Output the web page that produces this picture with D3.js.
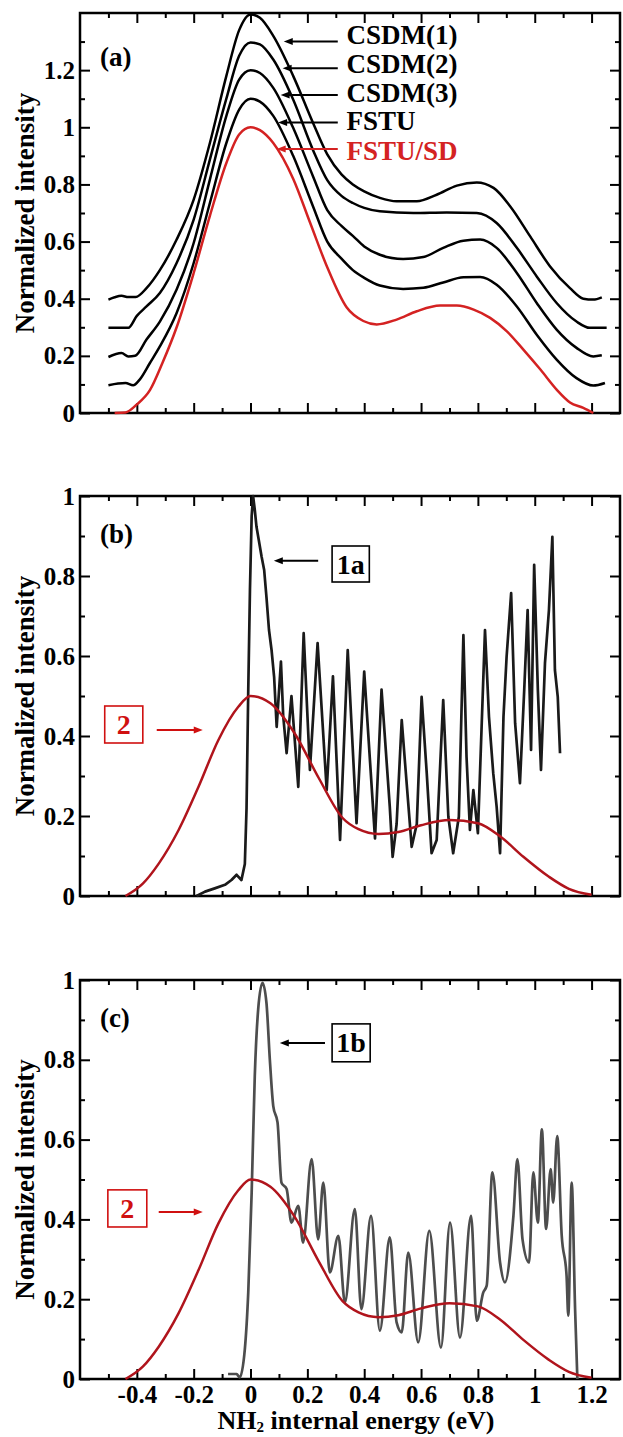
<!DOCTYPE html>
<html>
<head>
<meta charset="utf-8">
<script src="https://cdn.jsdelivr.net/npm/d3@7"></script>
<style>
html, body { margin: 0; padding: 0; background: #fff; }
svg text { font-family: "Liberation Serif", "Times New Roman", serif; font-weight: bold; }
</style>
</head>
<body>
<div id="chart"></div>
<script>
// ---- data ----
// panel (a): x in eV, normalized intensity (curves are stacked by the authors)
var fstuSdX = [-0.478, -0.44, -0.40, -0.354, -0.31, -0.26, -0.20, -0.143, -0.085, -0.04, 0, 0.033, 0.08, 0.15, 0.21, 0.27, 0.338, 0.397, 0.444, 0.514, 0.585, 0.667, 0.726, 0.785, 0.843, 0.902, 0.96, 1.02, 1.077, 1.124, 1.171, 1.206];
var fstuSdY = [0, 0.002, 0.03, 0.08, 0.175, 0.30, 0.49, 0.69, 0.875, 0.975, 1.0, 0.99, 0.945, 0.82, 0.665, 0.51, 0.37, 0.322, 0.31, 0.327, 0.356, 0.376, 0.376, 0.362, 0.333, 0.286, 0.222, 0.152, 0.082, 0.037, 0.018, 0];

var fstuX = [-0.50, -0.466, -0.44, -0.413, -0.39, -0.354, -0.319, -0.26, -0.20, -0.143, -0.085, -0.04, 0, 0.033, 0.08, 0.15, 0.22, 0.27, 0.32, 0.36, 0.40, 0.455, 0.537, 0.608, 0.678, 0.749, 0.808, 0.866, 0.937, 1.007, 1.077, 1.147, 1.206, 1.247];
var fstuY = [0.097, 0.103, 0.105, 0.097, 0.117, 0.175, 0.233, 0.35, 0.525, 0.735, 0.945, 1.062, 1.1, 1.09, 1.04, 0.90, 0.723, 0.60, 0.54, 0.50, 0.473, 0.446, 0.434, 0.438, 0.457, 0.475, 0.476, 0.449, 0.373, 0.274, 0.187, 0.122, 0.096, 0.105];

var csdm3X = [-0.50, -0.454, -0.43, -0.406, -0.366, -0.319, -0.26, -0.20, -0.143, -0.085, -0.04, 0, 0.033, 0.08, 0.15, 0.22, 0.27, 0.32, 0.36, 0.40, 0.455, 0.537, 0.608, 0.678, 0.749, 0.808, 0.866, 0.937, 1.007, 1.077, 1.147, 1.206, 1.236];
var csdm3Y = [0.196, 0.21, 0.198, 0.20, 0.257, 0.32, 0.432, 0.595, 0.817, 1.04, 1.167, 1.2, 1.19, 1.138, 0.998, 0.828, 0.71, 0.655, 0.62, 0.583, 0.554, 0.539, 0.546, 0.578, 0.603, 0.607, 0.578, 0.49, 0.385, 0.292, 0.228, 0.198, 0.202];

var csdm2X = [-0.50, -0.43, -0.40, -0.366, -0.319, -0.26, -0.20, -0.143, -0.085, -0.04, 0, 0.033, 0.08, 0.15, 0.22, 0.27, 0.32, 0.36, 0.40, 0.455, 0.573, 0.69, 0.796, 0.866, 0.937, 1.007, 1.077, 1.147, 1.194, 1.253];
var csdm2Y = [0.298, 0.298, 0.34, 0.373, 0.42, 0.525, 0.677, 0.887, 1.10, 1.25, 1.297, 1.29, 1.237, 1.097, 0.92, 0.815, 0.76, 0.735, 0.718, 0.706, 0.70, 0.702, 0.70, 0.665, 0.578, 0.478, 0.385, 0.32, 0.298, 0.298];

var csdm1X = [-0.50, -0.478, -0.454, -0.43, -0.404, -0.366, -0.319, -0.26, -0.20, -0.143, -0.085, -0.04, 0, 0.033, 0.08, 0.15, 0.22, 0.27, 0.32, 0.36, 0.40, 0.455, 0.514, 0.585, 0.655, 0.726, 0.796, 0.855, 0.914, 0.984, 1.054, 1.124, 1.171, 1.206, 1.236];
var csdm1Y = [0.397, 0.405, 0.41, 0.406, 0.406, 0.437, 0.50, 0.607, 0.747, 0.945, 1.18, 1.34, 1.395, 1.383, 1.32, 1.18, 1.015, 0.905, 0.835, 0.80, 0.776, 0.753, 0.741, 0.741, 0.764, 0.796, 0.807, 0.788, 0.723, 0.618, 0.513, 0.437, 0.40, 0.397, 0.405];

// panels (b) and (c): theory curve 2 (same in both)
var theoryX = [-0.44, -0.379, -0.323, -0.253, -0.183, -0.113, -0.043, 0, 0.07, 0.155, 0.24, 0.324, 0.38, 0.45, 0.52, 0.60, 0.70, 0.80, 0.88, 0.96, 1.05, 1.12, 1.2];
var theoryY = [0, 0.031, 0.081, 0.165, 0.273, 0.39, 0.473, 0.5, 0.482, 0.407, 0.295, 0.195, 0.167, 0.155, 0.16, 0.177, 0.19, 0.182, 0.148, 0.098, 0.048, 0.018, 0.003];

// panel (b): experiment 1a
var exp1aX = [-0.19, -0.16, -0.126, -0.09, -0.067, -0.049, -0.032, -0.02, -0.014, -0.008, -0.002, 0.004, 0.009, 0.015, 0.021, 0.029, 0.039, 0.048, 0.056, 0.065, 0.074, 0.083, 0.092, 0.107, 0.115, 0.127, 0.144, 0.168, 0.187, 0.209, 0.236, 0.268, 0.29, 0.315, 0.342, 0.373, 0.40, 0.438, 0.461, 0.49, 0.50, 0.514, 0.532, 0.544, 0.567, 0.585, 0.602, 0.62, 0.637, 0.655, 0.678, 0.696, 0.713, 0.733, 0.749, 0.76, 0.772, 0.784, 0.80, 0.825, 0.839, 0.854, 0.866, 0.878, 0.89, 0.901, 0.917, 0.931, 0.948, 0.963, 0.975, 0.987, 0.998, 1.011, 1.022, 1.036, 1.05, 1.062, 1.071, 1.081, 1.089];
var exp1aY = [0, 0.011, 0.019, 0.028, 0.04, 0.053, 0.04, 0.08, 0.22, 0.515, 0.765, 0.95, 1.0, 0.965, 0.923, 0.89, 0.848, 0.815, 0.748, 0.665, 0.615, 0.548, 0.423, 0.586, 0.45, 0.357, 0.50, 0.273, 0.657, 0.315, 0.632, 0.265, 0.549, 0.14, 0.615, 0.182, 0.561, 0.144, 0.516, 0.223, 0.098, 0.18, 0.44, 0.33, 0.123, 0.18, 0.498, 0.307, 0.107, 0.14, 0.49, 0.198, 0.107, 0.198, 0.652, 0.348, 0.165, 0.265, 0.157, 0.665, 0.448, 0.307, 0.223, 0.107, 0.448, 0.598, 0.757, 0.432, 0.282, 0.515, 0.715, 0.365, 0.828, 0.515, 0.315, 0.582, 0.715, 0.898, 0.565, 0.498, 0.357];

// panel (c): experiment 1b
var exp1bX = [-0.079, -0.049, -0.038, -0.02, -0.008, 0.004, 0.015, 0.027, 0.042, 0.056, 0.068, 0.08, 0.095, 0.109, 0.127, 0.144, 0.168, 0.185, 0.215, 0.238, 0.256, 0.279, 0.309, 0.332, 0.367, 0.39, 0.424, 0.455, 0.49, 0.514, 0.532, 0.555, 0.59, 0.629, 0.67, 0.702, 0.737, 0.776, 0.796, 0.819, 0.831, 0.851, 0.878, 0.895, 0.925, 0.939, 0.957, 0.98, 0.995, 1.011, 1.025, 1.04, 1.056, 1.065, 1.079, 1.095, 1.112, 1.118, 1.13, 1.142, 1.15];
var exp1bY = [0.0125, 0.0125, 0.004, 0.075, 0.217, 0.467, 0.76, 0.927, 0.993, 0.943, 0.80, 0.684, 0.643, 0.492, 0.476, 0.392, 0.434, 0.342, 0.551, 0.35, 0.492, 0.267, 0.359, 0.192, 0.426, 0.175, 0.409, 0.121, 0.355, 0.142, 0.117, 0.317, 0.092, 0.371, 0.079, 0.392, 0.104, 0.409, 0.146, 0.217, 0.234, 0.518, 0.292, 0.242, 0.409, 0.551, 0.35, 0.292, 0.518, 0.392, 0.626, 0.376, 0.526, 0.442, 0.609, 0.359, 0.259, 0.159, 0.492, 0.175, 0];

// ticks
var xMajor = [-0.4, -0.2, 0, 0.2, 0.4, 0.6, 0.8, 1.0, 1.2];
var xMinor = [-0.5, -0.3, -0.1, 0.1, 0.3, 0.5, 0.7, 0.9, 1.1];
var yMajorA = [0, 0.2, 0.4, 0.6, 0.8, 1.0, 1.2];
var yMinorA = [0.1, 0.3, 0.5, 0.7, 0.9, 1.1, 1.3];
var yMajorBC = [0, 0.2, 0.4, 0.6, 0.8, 1.0];
var yMinorBC = [0.1, 0.3, 0.5, 0.7, 0.9];

// labels of panel (a)
var seriesNames = ['CSDM(1)', 'CSDM(2)', 'CSDM(3)', 'FSTU', 'FSTU/SD'];

var W = 623, H = 1437;
var left = 80, right = 620;
var RED = '#d42222', DARKRED = '#b0141c', LABELRED = '#d01010';

var svg = d3.select('#chart').append('svg')
    .attr('width', W)
    .attr('height', H)
    .style('display', 'block');
svg.append('rect').attr('width', W).attr('height', H).attr('fill', '#fff');

var x = d3.scaleLinear().domain([-0.6, 1.3]).range([left, right]);

var fmt = function (d) { return String(Math.round(d * 10) / 10); };

function zip(xs, ys) {
    return xs.map(function (v, i) { return [v, ys[i]]; });
}

function styleAxis(sel, keepText) {
    sel.select('.domain').remove();
    sel.selectAll('line').attr('stroke', '#000').attr('stroke-width', 2);
    sel.attr('font-family', '"Liberation Serif", "Times New Roman", serif')
        .attr('font-size', 25)
        .attr('font-weight', 'bold');
    if (keepText) {
        sel.selectAll('text').attr('fill', '#000');
    } else {
        sel.selectAll('text').remove();
    }
}

function panel(top, bottom, yMax, yMajor, yMinor, xLabels) {
    var y = d3.scaleLinear().domain([0, yMax]).range([bottom, top]);
    var g = svg.append('g');

    g.append('g').attr('transform', 'translate(0,' + bottom + ')')
        .call(d3.axisBottom(x).tickValues(xMajor).tickSize(-10).tickPadding(6).tickFormat(fmt))
        .call(styleAxis, xLabels);
    g.append('g').attr('transform', 'translate(0,' + bottom + ')')
        .call(d3.axisBottom(x).tickValues(xMinor).tickSize(-5))
        .call(styleAxis, false);
    g.append('g').attr('transform', 'translate(0,' + top + ')')
        .call(d3.axisTop(x).tickValues(xMajor).tickSize(-10))
        .call(styleAxis, false);
    g.append('g').attr('transform', 'translate(0,' + top + ')')
        .call(d3.axisTop(x).tickValues(xMinor).tickSize(-5))
        .call(styleAxis, false);
    g.append('g').attr('transform', 'translate(' + left + ',0)')
        .call(d3.axisLeft(y).tickValues(yMajor).tickSize(-10).tickPadding(5).tickFormat(fmt))
        .call(styleAxis, true);
    g.append('g').attr('transform', 'translate(' + left + ',0)')
        .call(d3.axisLeft(y).tickValues(yMinor).tickSize(-5))
        .call(styleAxis, false);
    g.append('g').attr('transform', 'translate(' + right + ',0)')
        .call(d3.axisRight(y).tickValues(yMajor).tickSize(-10))
        .call(styleAxis, false);
    g.append('g').attr('transform', 'translate(' + right + ',0)')
        .call(d3.axisRight(y).tickValues(yMinor).tickSize(-5))
        .call(styleAxis, false);

    g.append('rect')
        .attr('x', left).attr('y', top)
        .attr('width', right - left).attr('height', bottom - top)
        .attr('fill', 'none').attr('stroke', '#000').attr('stroke-width', 2.5);

    // y title
    g.append('text')
        .attr('transform', 'translate(34,' + ((top + bottom) / 2) + ') rotate(-90)')
        .attr('text-anchor', 'middle')
        .attr('font-size', 27)
        .text('Normalized intensity');

    return { g: g, y: y };
}

function curve(p, xs, ys, color, width, kind) {
    var line = d3.line()
        .x(function (d) { return x(d[0]); })
        .y(function (d) { return p.y(d[1]); })
        .curve(kind || d3.curveMonotoneX);
    p.g.append('path')
        .datum(zip(xs, ys))
        .attr('d', line)
        .attr('fill', 'none')
        .attr('stroke', color)
        .attr('stroke-width', width)
        .attr('stroke-linejoin', 'round');
}

function arrow(p, x1, x2, yv, color) {
    var ax1 = x(x1), ax2 = x(x2), ay = p.y(yv);
    var dir = ax2 < ax1 ? 1 : -1;
    p.g.append('line')
        .attr('x1', ax1).attr('y1', ay)
        .attr('x2', ax2 + dir * 6).attr('y2', ay)
        .attr('stroke', color).attr('stroke-width', 2);
    p.g.append('path')
        .attr('d', 'M' + ax2 + ',' + ay + 'L' + (ax2 + dir * 9) + ',' + (ay - 3.5) + 'L' + (ax2 + dir * 9) + ',' + (ay + 3.5) + 'Z')
        .attr('fill', color);
}

function boxLabel(p, x0, x1, y0, y1, label, color) {
    var bx = x(x0), by = p.y(y0), bw = x(x1) - x(x0), bh = p.y(y1) - p.y(y0);
    p.g.append('rect')
        .attr('x', bx).attr('y', by).attr('width', bw).attr('height', bh)
        .attr('fill', '#fff').attr('stroke', color).attr('stroke-width', 1.6);
    p.g.append('text')
        .attr('x', bx + bw / 2).attr('y', by + bh / 2 + 9.5)
        .attr('text-anchor', 'middle')
        .attr('font-size', 28)
        .attr('fill', color)
        .text(label);
}

function panelTag(p, xv, yv, label) {
    p.g.append('text')
        .attr('x', x(xv)).attr('y', p.y(yv))
        .attr('font-size', 27)
        .text(label);
}

// ---- panel (a) ----
var pa = panel(13, 413, 1.4, yMajorA, yMinorA, false);
curve(pa, csdm1X, csdm1Y, '#000', 2.5);
curve(pa, csdm2X, csdm2Y, '#000', 2.5);
curve(pa, csdm3X, csdm3Y, '#000', 2.5);
curve(pa, fstuX, fstuY, '#000', 2.5);
curve(pa, fstuSdX, fstuSdY, RED, 2.5);
panelTag(pa, -0.53, 1.213, '(a)');

var arrowTip = [0.117, 0.113, 0.106, 0.097, 0.092];
var arrowVal = [1.30, 1.207, 1.113, 1.017, 0.924];
var labelVal = [1.293, 1.189, 1.089, 0.99, 0.887];
seriesNames.forEach(function (name, i) {
    var c = i === 4 ? RED : '#000';
    arrow(pa, 0.307, arrowTip[i], arrowVal[i], c);
    pa.g.append('text')
        .attr('x', x(0.338)).attr('y', pa.y(labelVal[i]))
        .attr('font-size', 27)
        .attr('fill', c)
        .text(name);
});

// ---- panel (b) ----
var pb = panel(496, 896, 1, yMajorBC, yMinorBC, false);
curve(pb, exp1aX, exp1aY, '#1a1a1a', 2.7, d3.curveLinear);
curve(pb, theoryX, theoryY, DARKRED, 2.5);
panelTag(pb, -0.53, 0.8825, '(b)');
arrow(pb, 0.238, 0.082, 0.838, '#000');
boxLabel(pb, 0.287, 0.418, 0.875, 0.785, '1a', '#000');
arrow(pb, -0.33, -0.168, 0.415, LABELRED);
boxLabel(pb, -0.513, -0.379, 0.475, 0.3825, '2', LABELRED);

// ---- panel (c) ----
var pc = panel(980, 1379, 1, yMajorBC, yMinorBC, true);
curve(pc, exp1bX, exp1bY, '#4d4d4d', 2.7);
curve(pc, theoryX, theoryY, DARKRED, 2.5);
panelTag(pc, -0.53, 0.882, '(c)');
arrow(pc, 0.262, 0.103, 0.842, '#000');
boxLabel(pc, 0.287, 0.421, 0.89, 0.795, '1b', '#000');
arrow(pc, -0.323, -0.168, 0.4185, LABELRED);
boxLabel(pc, -0.502, -0.365, 0.474, 0.381, '2', LABELRED);

// x title
var xt = svg.append('text')
    .attr('x', 356).attr('y', 1429)
    .attr('text-anchor', 'middle')
    .attr('font-size', 26);
xt.append('tspan').text('NH');
xt.append('tspan').attr('font-size', 15).attr('dy', 3).text('2');
xt.append('tspan').attr('dy', -3).text(' internal energy (eV)');
</script>
</body>
</html>
